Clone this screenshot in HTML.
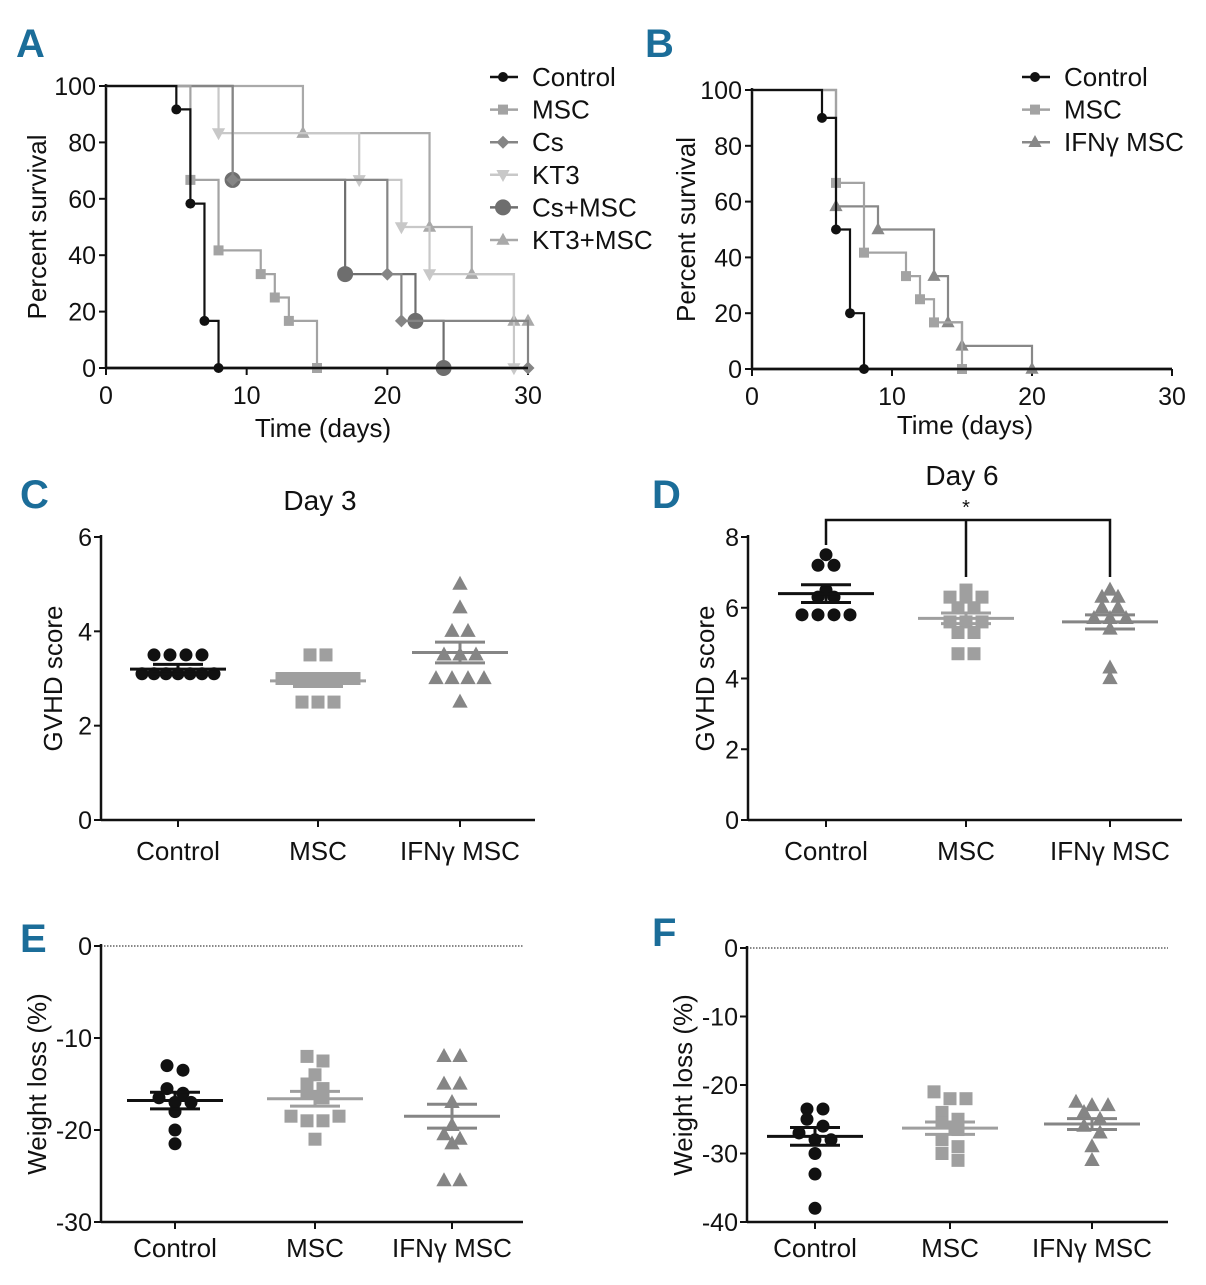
<!DOCTYPE html>
<html><head><meta charset="utf-8"><style>
body{margin:0;background:#fff}
svg text{font-family:"Liberation Sans Narrow","Liberation Sans",sans-serif;fill:#111}
</style></head><body>
<svg id="fig" xmlns="http://www.w3.org/2000/svg" width="1206" height="1280" viewBox="0 0 1206 1280"></svg>
<script>
// ---- Panel A data ----
const aSeries = ["Control","MSC","Cs","KT3","Cs+MSC","KT3+MSC"];
const aCtrlT = [5,6,7,8], aCtrlS = [91.7,58.3,16.7,0];
const aMscT = [6,8,11,12,13,15], aMscS = [66.7,41.7,33.3,25,16.7,0];
const aCsT = [9,20,21,30], aCsS = [66.7,33.3,16.7,0];
const aKt3T = [8,18,21,23,29], aKt3S = [83.3,66.7,50,33.3,0];
const aCsMscT = [9,17,22,24], aCsMscS = [66.7,33.3,16.7,0];
const aKtMscT = [14,23,26,29,30], aKtMscS = [83.3,50,33.3,16.7,16.7];
const kmXTicks = [0,10,20,30], kmYTicks = [0,20,40,60,80,100];
// ---- Panel B data ----
const bSeries = ["Control","MSC","IFNγ MSC"];
const bCtrlT = [5,6,7,8], bCtrlS = [90,50,20,0];
const bMscT = [6,8,11,12,13,15], bMscS = [66.7,41.7,33.3,25,16.7,0];
const bIfnT = [6,9,13,14,15,20], bIfnS = [58.3,50,33.3,16.7,8.3,0];
// ---- Scatter categories ----
const groups = ["Control","MSC","IFNγ MSC"];
// C: Day 3 GVHD
const cCtrl = [3.5,3.5,3.5,3.5,3.1,3.1,3.1,3.1,3.1,3.1,3.1];
const cMsc = [3.5,3.5,3.0,3.0,3.0,3.0,3.0,3.0,3.0,2.5,2.5,2.5];
const cIfn = [5,4.5,4,4,3.5,3.5,3.5,3,3,3,3,2.5];
const cMean = [3.2,2.95,3.55], cSem = [0.1,0.12,0.22];
const cTicks = [0,2,4,6];
// D: Day 6 GVHD
const dCtrl = [7.5,7.2,7.2,6.5,6.3,6.3,5.8,5.8,5.8,5.8];
const dMsc = [6.5,6.3,6.3,6.3,6.0,6.0,5.6,5.6,5.6,5.3,5.3,4.7,4.7];
const dIfn = [6.5,6.3,6.3,6.0,6.0,5.7,5.7,5.7,5.4,4.3,4.0];
const dMean = [6.4,5.7,5.6], dSem = [0.25,0.15,0.2];
const dTicks = [0,2,4,6,8];
// E: weight loss
const eCtrl = [-13,-13.5,-15.5,-16,-16.5,-17,-17,-18,-20,-21.5];
const eMsc = [-12,-12.5,-14,-15,-15.5,-16,-16.5,-18.5,-19,-19,-18.5,-21];
const eIfn = [-12,-12,-15,-15,-17,-19.5,-20.5,-21,-21.5,-25.5,-25.5];
const eMean = [-16.8,-16.6,-18.5], eSem = [0.9,0.8,1.3];
const eTicks = [0,-10,-20,-30];
// F
const fCtrl = [-23.5,-23.5,-25,-26,-27,-28,-28,-30,-33,-38];
const fMsc = [-21,-22,-22,-24,-25,-25.5,-26.5,-28,-29,-30,-31];
const fIfn = [-22.5,-23,-23,-24,-25,-26,-27,-29,-31];
const fMean = [-27.5,-26.3,-25.7], fSem = [1.3,0.9,0.8];
const fTicks = [0,-10,-20,-30,-40];

const svg = document.getElementById('fig');
const NS = 'http://www.w3.org/2000/svg';
function mk(tag, attrs, parent){const e=document.createElementNS(NS,tag);for(const k in attrs)e.setAttribute(k,attrs[k]);(parent||svg).appendChild(e);return e;}
function txt(s, x, y, size, anchor, parent, extra){const t=mk('text',Object.assign({x:x,y:y,'font-size':size,'text-anchor':anchor||'middle'},extra||{}),parent);t.textContent=s;return t;}
function marker(shape, x, y, r, color, parent){
  let e;
  if(shape==='circle') e=mk('circle',{cx:x,cy:y,r:r,fill:color},parent);
  else if(shape==='square') e=mk('rect',{x:x-r,y:y-r,width:2*r,height:2*r,fill:color},parent);
  else if(shape==='diamond') e=mk('polygon',{points:`${x},${y-r*1.3} ${x+r*1.3},${y} ${x},${y+r*1.3} ${x-r*1.3},${y}`,fill:color},parent);
  else if(shape==='tri') e=mk('polygon',{points:`${x},${y-r*1.2} ${x+r*1.1},${y+r*0.8} ${x-r*1.1},${y+r*0.8}`,fill:color},parent);
  else if(shape==='tridown') e=mk('polygon',{points:`${x},${y+r*1.2} ${x+r*1.1},${y-r*0.8} ${x-r*1.1},${y-r*0.8}`,fill:color},parent);
  
  
  return e;
}
function letter(s,x,y){const t=txt(s,x,y,40,'start',svg,{'font-weight':'bold',fill:'#1b6d99',style:'fill:#1b6d99'});}

function kmPanel(id, x0, x1, y0, y100, series, legendX, legendY, xTitleX, xTitleY, yTitleX){
  const g=mk('g',{});
  
  
  const sx=t=>x0+(x1-x0)*t/30, sy=v=>y0+(y100-y0)*v/100;
  mk('line',{x1:x0,y1:y100-2,x2:x0,y2:y0,stroke:'#111','stroke-width':2.5},g);
  mk('line',{x1:x0,y1:y0,x2:x1,y2:y0,stroke:'#111','stroke-width':2.5},g);
  kmYTicks.forEach(v=>{mk('line',{x1:x0-7,y1:sy(v),x2:x0,y2:sy(v),stroke:'#111','stroke-width':2},g);const t=txt(v,x0-10,sy(v)+9,25,'end',g);});
  kmXTicks.forEach(v=>{mk('line',{x1:sx(v),y1:y0,x2:sx(v),y2:y0+7,stroke:'#111','stroke-width':2},g);const t=txt(v,sx(v),y0+36,25,'middle',g);});
  const xt=txt('Time (days)',xTitleX,xTitleY,26,'middle',g);
  const yt=txt('Percent survival',0,0,26,'middle',g,{transform:`translate(${yTitleX},${(y0+y100)/2}) rotate(-90)`});
  series.slice().reverse().forEach(s=>{
    let d=`M${sx(0)},${sy(100)}`;
    s.t.forEach((t,i)=>{d+=` H${sx(t)} V${sy(s.s[i])}`;});
    const p=mk('path',{d:d,fill:'none',stroke:s.c,'stroke-width':2.2},g);
    
    
    s.t.forEach((t,i)=>marker(s.m,sx(t),sy(s.s[i]),s.r,s.c,g));
  });
  mk('line',{x1:x0,y1:y0,x2:x1,y2:y0,stroke:'#111','stroke-width':2.5},g);
  series.forEach((s,i)=>{
    const ly=legendY+i*32.6;
    const lg=mk('g',{},g);
    
    
    mk('line',{x1:legendX,y1:ly,x2:legendX+28,y2:ly,stroke:s.c,'stroke-width':2.5},lg);
    marker(s.m,legendX+13,ly,s.r,s.c,lg);
    txt(s.n,legendX+42,ly+9,26,'start',lg);
  });
}

letter('A',16,57);
kmPanel('a',106,528,368,86,[
 {n:aSeries[0],t:aCtrlT,s:aCtrlS,c:'#111',m:'circle',r:5},
 {n:aSeries[1],t:aMscT,s:aMscS,c:'#a3a3a3',m:'square',r:5},
 {n:aSeries[2],t:aCsT,s:aCsS,c:'#858585',m:'diamond',r:5},
 {n:aSeries[3],t:aKt3T,s:aKt3S,c:'#c8c8c8',m:'tridown',r:6},
 {n:aSeries[4],t:aCsMscT,s:aCsMscS,c:'#6e6e6e',m:'circle',r:8},
 {n:aSeries[5],t:aKtMscT,s:aKtMscS,c:'#a9a9a9',m:'tri',r:6}
],490,77,323,437,46);
letter('B',645,57);
kmPanel('b',752,1172,369,90,[
 {n:bSeries[0],t:bCtrlT,s:bCtrlS,c:'#111',m:'circle',r:5},
 {n:bSeries[1],t:bMscT,s:bMscS,c:'#a3a3a3',m:'square',r:5},
 {n:bSeries[2],t:bIfnT,s:bIfnS,c:'#888',m:'tri',r:6}
],1022,77,965,434,695);

function scatterPanel(id, ax, x1, yMin, yMax, pyMin, pyMax, ticks, cx, sets, means, sems, yTitle, titleX, dotted){
  const g=mk('g',{});
  
  
  const sy=v=>pyMin+(pyMax-pyMin)*(v-yMin)/(yMax-yMin);
  mk('line',{x1:ax,y1:pyMax-2,x2:ax,y2:pyMin,stroke:'#111','stroke-width':2.5},g);
  if(dotted){
    const dl=mk('line',{x1:ax,y1:sy(0),x2:x1,y2:sy(0),stroke:'#111','stroke-width':1,'stroke-dasharray':'1.5,1.5'},g);
    
  }
  mk('line',{x1:ax,y1:pyMin,x2:x1,y2:pyMin,stroke:'#111','stroke-width':2.5},g);
  ticks.forEach(v=>{mk('line',{x1:ax-7,y1:sy(v),x2:ax,y2:sy(v),stroke:'#111','stroke-width':2},g);const t=txt(v,ax-9,sy(v)+9,25,'end',g);});
  const by = pyMin;
  groups.forEach((c,i)=>{mk('line',{x1:cx[i],y1:by,x2:cx[i],y2:by+7,stroke:'#111','stroke-width':2},g);const t=txt(c,cx[i],by+(dotted?35:40),26,'middle',g);});
  const yt=txt(yTitle,0,0,26,'middle',g,{transform:`translate(${titleX},${(pyMin+pyMax)/2}) rotate(-90)`});
  
  const styles=[['circle','#111',6.5],['square','#9f9f9f',6.5],['tri','#858585',7]];
  sets.forEach((arr,i)=>{
    const [shape,col,r]=styles[i];
    const rows=[];
    arr.forEach(v=>{const py=sy(v);let row=rows.find(rw=>Math.abs(rw.y-py)<7);if(!row){row={y:py,n:[]};rows.push(row);}row.n.push(py);});
    rows.forEach(rw=>{const k=rw.n.length;const sp=k>4?12:16;rw.n.forEach((py,j)=>marker(shape,cx[i]+(j-(k-1)/2)*sp,py,r,col,g));});
    const my=sy(means[i]), e1=sy(means[i]+sems[i]), e2=sy(means[i]-sems[i]);
    const eg=mk('g',{stroke:col,'stroke-width':3},g);
    
    
    mk('line',{x1:cx[i]-48,y1:my,x2:cx[i]+48,y2:my},eg);
    mk('line',{x1:cx[i],y1:e1,x2:cx[i],y2:e2},eg);
    mk('line',{x1:cx[i]-25,y1:e1,x2:cx[i]+25,y2:e1},eg);
    mk('line',{x1:cx[i]-25,y1:e2,x2:cx[i]+25,y2:e2},eg);
  });
  return {g,sy};
}
function c_(i){return ['control','msc','ifn-msc'][i];}

letter('C',20,508);
scatterPanel('c',101,535,0,6,820,537,cTicks,[178,318,460],[cCtrl,cMsc,cIfn],cMean,cSem,'GVHD score',62,false);
const t3=txt('Day 3',320,510,28);

letter('D',652,508);
scatterPanel('d',748,1182,0,8,820,537,dTicks,[826,966,1110],[dCtrl,dMsc,dIfn],dMean,dSem,'GVHD score',714,false);
const t6=txt('Day 6',962,485,28);
const br=mk('path',{d:'M826,545 V520 H1110 V577 M966,520 V577',fill:'none',stroke:'#111','stroke-width':2.5});

const st=txt('*',966,514,20);

letter('E',20,952);
scatterPanel('e',101,523,-30,0,1222,946,eTicks,[175,315,452],[eCtrl,eMsc,eIfn],eMean,eSem,'Weight loss (%)',46,true);

letter('F',652,946);
scatterPanel('f',747,1168,-40,0,1222,948,fTicks,[815,950,1092],[fCtrl,fMsc,fIfn],fMean,fSem,'Weight loss (%)',692,true);
</script>
</body></html>
